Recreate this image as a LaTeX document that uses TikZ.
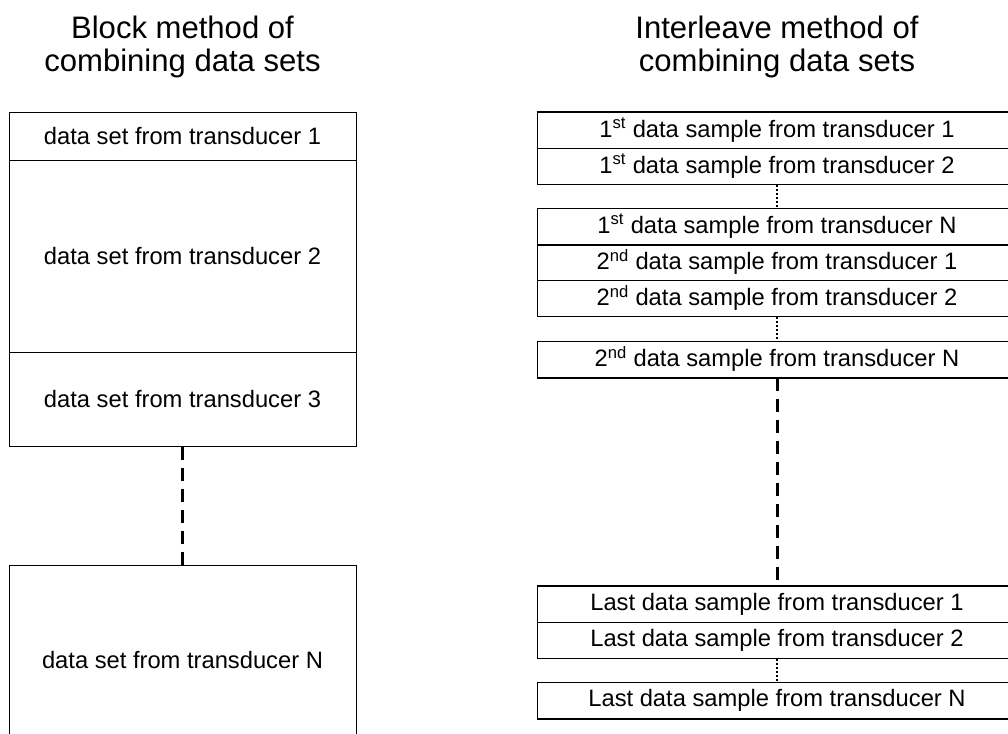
\documentclass[tikz,border=0pt]{standalone}
\usepackage{fontspec}
\setmainfont{Liberation Sans}
\begin{document}
\begin{tikzpicture}[x=0.75pt, y=-0.75pt,
		setbox/.style={draw, line width=0.75pt, inner sep=0pt, minimum width=260.25pt, font=\fontsize{17.8}{21}\selectfont},
		rowbox/.style={draw, line width=0.75pt, inner sep=0pt, minimum width=360pt, minimum height=27pt, font=\fontsize{17.8}{21}\selectfont},
		heading/.style={align=center, inner sep=0pt, font=\fontsize{23.3}{24.75}\selectfont},
		gap/.style={line width=2.25pt, dash pattern=on 9.75pt off 6pt},
		dots/.style={line width=0.9pt, dash pattern=on 1.5pt off 1.5pt},
		bar/.style={line width=1.5pt}]
				\useasboundingbox (0,0) rectangle (1008,733);
				\clip (0,0) rectangle (1008,733);
				%headings
				\node[heading] (blocktitle) at (182.5, 46.5) {Block method of\\combining data sets};
				\node[heading] (inttitle) at (777, 46.5) {Interleave method of\\combining data sets};
				%block method
				\node[setbox, minimum height=36pt] (set1) at (182.5, 136) {data set from transducer 1};
				\node[setbox, minimum height=144pt] (set2) at (182.5, 256) {data set from transducer 2};
				\node[setbox, minimum height=70.5pt] (set3) at (182.5, 399) {data set from transducer 3};
				\node[setbox, minimum height=142.5pt] (setN) at (182.5, 660) {data set from transducer N};
				\draw[gap] (set3.south) -- (setN.north);
				%interleave method
				\foreach \n/\y/\t in {
					r11/130/{1\textsuperscript{st} data sample from transducer 1},
					r12/166/{1\textsuperscript{st} data sample from transducer 2},
					r1N/226/{1\textsuperscript{st} data sample from transducer N},
					r21/262/{2\textsuperscript{nd} data sample from transducer 1},
					r22/298/{2\textsuperscript{nd} data sample from transducer 2},
					r2N/359/{2\textsuperscript{nd} data sample from transducer N},
					rL1/604/{Last data sample from transducer 1},
					rL2/640/{Last data sample from transducer 2},
					rLN/700/{Last data sample from transducer N}} {
					\node[rowbox] (\n) at (777, \y) {\t};
				}
				\foreach \a/\b in {r12/r1N, r22/r2N, rL2/rLN} {
					\draw[dots] (\a.south) -- (\b.north);
				}
				\foreach \a in {r11, rL1} {
					\draw[bar] (\a.north west) -- (\a.north east);
				}
				\foreach \a in {r1N, r2N, rLN} {
					\draw[bar] (\a.south west) -- (\a.south east);
				}
				\draw[gap] (r2N.south) -- (rL1.north);
			\end{tikzpicture}
\end{document}
